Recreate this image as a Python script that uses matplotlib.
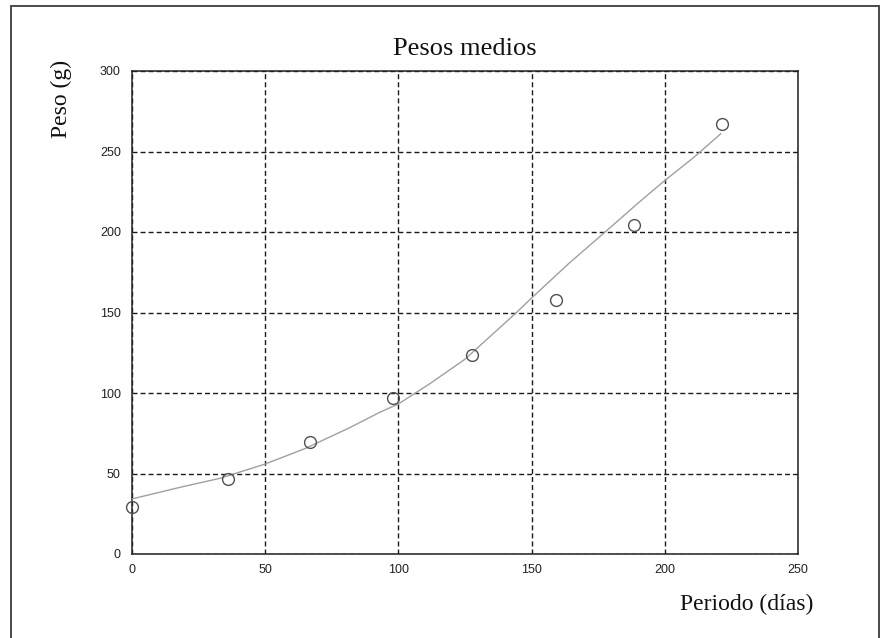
import numpy as np
import matplotlib
matplotlib.use("Agg")
import matplotlib.pyplot as plt
from matplotlib.patches import Rectangle

dias = [0, 36, 67, 98, 127.5, 159, 188.5, 221.5]
peso = [29.4, 46.4, 69.8, 96.7, 123.4, 157.8, 204.3, 266.9]

# fitted curve, read at regular points along the gray line
curva_x = [0, 18, 33, 50, 65, 82, 93, 100, 112, 125, 137, 144, 150, 164, 177.6, 190, 200, 211, 221]
curva_y = [34.2, 41.4, 47.0, 55.9, 65.5, 78.7, 88.0, 93.2, 106.0, 121.0, 139.0, 149.5, 159.0, 180.5, 200.0, 218.0, 232.0, 246.5, 261.0]

xticks = [0, 50, 100, 150, 200, 250]
yticks = [0, 50, 100, 150, 200, 250, 300]

plt.rcParams['lines.scale_dashes'] = False
W, H = 880, 638
fig = plt.figure(figsize=(W / 100, H / 100), dpi=100)
ax = fig.add_axes([132 / W, 1 - 554 / H, (798 - 132) / W, (554 - 71) / H])

ax.plot(curva_x, curva_y, color='#a0a0a0', lw=1.0, zorder=3)
ax.plot(dias, peso, 'o', mfc='none', mec='#505050', mew=1.0, ms=8.5, zorder=4,
        clip_on=False)

ax.set_xlim(0, 250)
ax.set_ylim(0, 300)
ax.set_xticks(xticks)
ax.set_yticks(yticks)
ax.set_xticklabels([str(v) for v in xticks], fontfamily='Liberation Sans', fontsize=9)
ax.set_yticklabels([str(v) for v in yticks], fontfamily='Liberation Sans', fontsize=9)
ax.tick_params(length=0, pad=8, colors='#222222')
ax.tick_params(axis='x', pad=7)
ax.grid(True, color='#1a1a1a', lw=1.0, linestyle=(0, (3.6, 2.2)))
ax.set_axisbelow(True)
for s in ax.spines.values():
    s.set_linewidth(1.1)
    s.set_color('#222222')

serif = 'Liberation Serif'
fig.text(465 / W, 1 - 55 / H, 'Pesos medios', ha='center', va='baseline',
         fontfamily=serif, fontsize=19, color='#111111')
fig.text(813 / W, 1 - 610 / H, 'Periodo (días)', ha='right', va='baseline',
         fontfamily=serif, fontsize=17, color='#111111')
fig.text(61 / W, 1 - 99 / H, 'Peso (g)', ha='center', va='center', rotation=90,
         fontfamily=serif, fontsize=17, color='#111111')

# outer frame
fig.patches.append(Rectangle((11 / W, -0.05), (879 - 11) / W, 1.05 - 6 / H,
                             transform=fig.transFigure, fill=False,
                             edgecolor='#4a4a4a', lw=1.4, clip_on=False))

fig.savefig('out.png', dpi=100)
